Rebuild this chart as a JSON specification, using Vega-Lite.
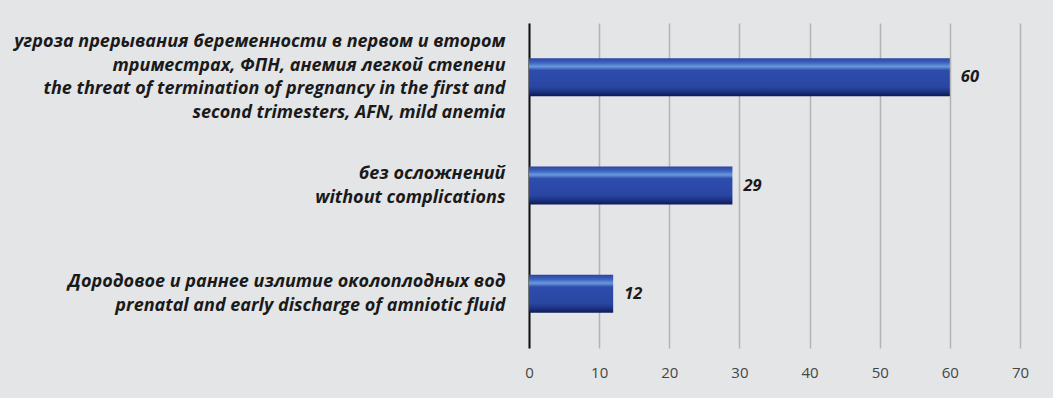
{
  "$schema": "https://vega.github.io/schema/vega-lite/v6.json",
  "autosize": {"type": "none"},
  "width": 491,
  "height": 325,
  "padding": {"left": 529, "top": 23, "right": 33, "bottom": 50},
  "background": "#e4e5e7",
  "config": {"view": {"stroke": null}},
  "data": {
    "values": [
      {"label": "угроза прерывания беременности в первом и втором|триместрах, ФПН, анемия легкой степени|the threat of termination of pregnancy in the first and|second trimesters,  AFN, mild anemia", "value": 60},
      {"label": "без осложнений|without complications", "value": 29},
      {"label": "Дородовое и раннее излитие околоплодных вод|prenatal and early discharge of amniotic fluid", "value": 12}
    ]
  },
  "encoding": {
    "y": {
      "field": "label",
      "type": "nominal",
      "sort": null,
      "scale": {"paddingInner": 0, "paddingOuter": 0},
      "axis": {
        "title": null,
        "labelExpr": "length(split(datum.label, '|')) > 2 ? split(datum.label, '|') : split('|' + datum.label, '|')",
        "labelFont": "Open Sans",
        "labelFontSize": 18,
        "labelFontWeight": "bold",
        "labelFontStyle": "italic",
        "labelColor": "#1a1a1a",
        "labelLineHeight": 23.5,
        "labelAlign": "right",
        "labelBaseline": "middle",
        "labelOffset": -35,
        "labelPadding": 24,
        "labelLimit": 600,
        "ticks": false,
        "domain": true,
        "domainColor": "#111111",
        "domainWidth": 2,
        "grid": false
      }
    },
    "x": {
      "field": "value",
      "type": "quantitative",
      "scale": {"domain": [0, 70], "nice": false},
      "axis": {
        "title": null,
        "values": [0, 10, 20, 30, 40, 50, 60, 70],
        "grid": true,
        "gridColor": "#b4b4b4",
        "gridWidth": 1.5,
        "domain": false,
        "ticks": false,
        "labelFont": "Open Sans",
        "labelFontSize": 15,
        "labelColor": "#454545",
        "labelPadding": 17,
        "labelFlush": false
      }
    }
  },
  "layer": [
    {
      "mark": {
        "type": "bar",
        "size": 38,
        "color": {
          "gradient": "linear",
          "x1": 0, "y1": 0, "x2": 0, "y2": 1,
          "stops": [
            {"offset": 0, "color": "#2a44a0"},
            {"offset": 0.12, "color": "#3c64c0"},
            {"offset": 0.22, "color": "#6a98dc"},
            {"offset": 0.32, "color": "#2d4cab"},
            {"offset": 0.75, "color": "#2a46a3"},
            {"offset": 0.88, "color": "#1d3383"},
            {"offset": 1, "color": "#0c1a55"}
          ]
        }
      }
    },
    {
      "mark": {
        "type": "text",
        "align": "left",
        "baseline": "middle",
        "dx": 11,
        "font": "Open Sans",
        "fontSize": 16.5,
        "fontWeight": "bold",
        "fontStyle": "italic",
        "color": "#1a1a1a"
      },
      "encoding": {"text": {"field": "value", "type": "quantitative"}}
    }
  ]
}
